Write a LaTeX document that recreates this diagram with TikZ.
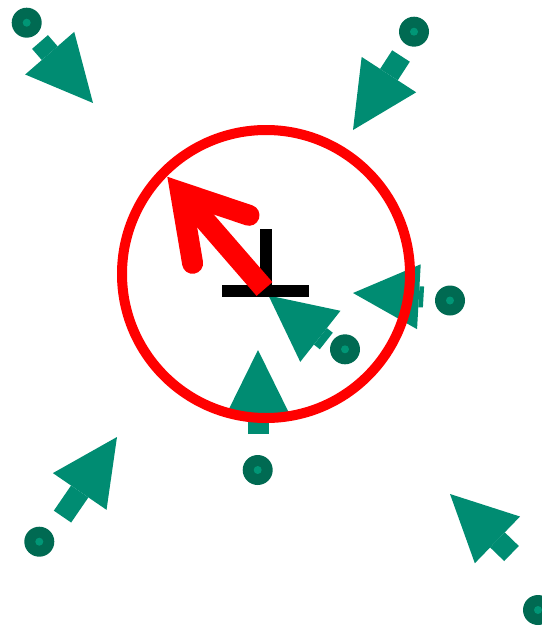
\documentclass[tikz,border=0pt]{standalone}
\usetikzlibrary{calc}
\definecolor{arrowgreen}{RGB}{0,140,114}
\definecolor{dotgreen}{RGB}{0,106,82}
\definecolor{dotlight}{RGB}{0,150,118}
\tikzset{
  gshaft/.style={draw=arrowgreen, line width=21pt, line cap=butt},
  ghead/.style={fill=arrowgreen},
  gdot/.style={circle, fill=dotgreen, minimum size=30pt, inner sep=0pt},
  gdotc/.style={circle, fill=dotlight, minimum size=8pt, inner sep=0pt},
  blackbar/.style={draw=black, line width=12pt, line cap=butt},
  redring/.style={draw=red, line width=10pt},
  redstroke/.style={draw=red, line width=21pt},
}
\newcommand\garrow[2]{%
  \coordinate (#2-b) at ($(#2)!66pt!(#1)$);
  \draw[gshaft] (#1) -- (#2-b);
  \fill[ghead] ($(#2-b)!32.5pt!90:(#2)$) -- (#2) -- ($(#2-b)!32.5pt!-90:(#2)$) -- cycle;
}
\begin{document}
\begin{tikzpicture}[x=1pt,y=-1pt]
\useasboundingbox (0,0) rectangle (541,626);
% arrow tails and tips
\coordinate (t1) at (40,42);      \coordinate (p1) at (93,103);
\coordinate (t2) at (401,56);     \coordinate (p2) at (353,130);
\coordinate (t3) at (423.5,297);  \coordinate (p3) at (353,293);
\coordinate (t4) at (326.3,341);  \coordinate (p4) at (268.5,295.5);
\coordinate (t5) at (258,434);    \coordinate (p5) at (258,350);
\coordinate (t6) at (62.5,516.6); \coordinate (p6) at (117,437);
\coordinate (t7) at (511.5,553.5);\coordinate (p7) at (450,494);
\garrow{t1}{p1}
\garrow{t2}{p2}
\garrow{t3}{p3}
\garrow{t4}{p4}
\garrow{t5}{p5}
\garrow{t6}{p6}
\garrow{t7}{p7}
% dots
\foreach \n/\x/\y in {1/26.7/22.7, 2/414/31.7, 3/450/300.5, 4/345/349.3, 5/257.7/470, 6/39.3/541.7, 7/538/610}{
  \node[gdot] (d\n) at (\x,\y) {};
  \node[gdotc] at (d\n) {};
}
% black symbol
\coordinate (vtop) at (266,229);
\coordinate (vbot) at (266,291);
\coordinate (hl) at (222,291);
\coordinate (hr) at (309,291);
\draw[blackbar] (vtop) -- (vbot);
\draw[blackbar] (hl) -- (hr);
% red circle
\node[circle, redring, minimum size=288pt, inner sep=0pt] (ring) at (266,274) {};
% red arrow
\coordinate (rT) at (180.6,192.3);
\coordinate (rB1) at (249,215.3);
\coordinate (rB2) at (192.6,263.3);
\coordinate (rS) at (264.5,289);
\draw[redstroke, line cap=butt] (rS) -- (rT);
\draw[redstroke, line cap=round, line join=miter] (rB1) -- (rT) -- (rB2);
\end{tikzpicture}
\end{document}
